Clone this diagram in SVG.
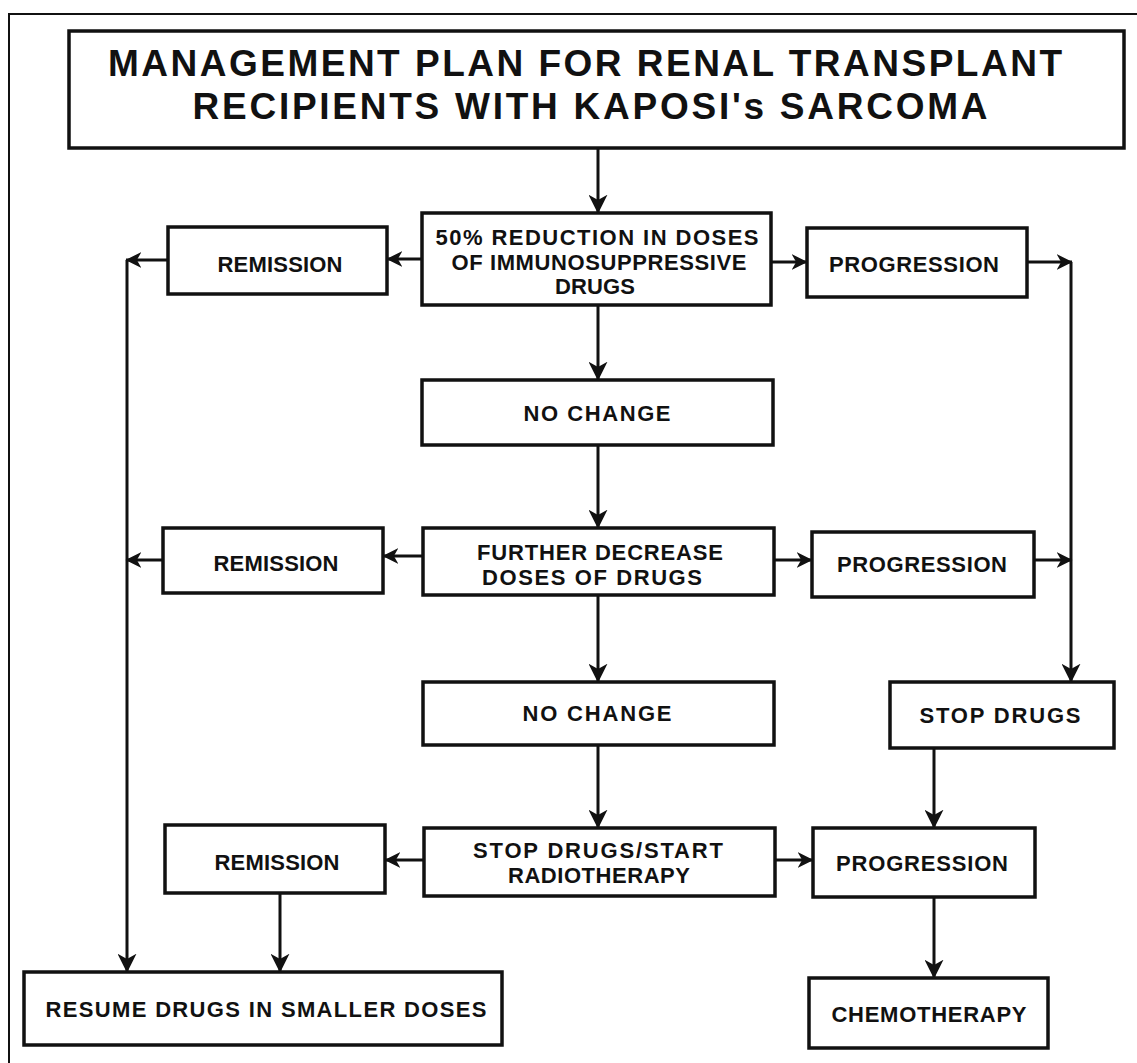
<svg xmlns="http://www.w3.org/2000/svg" width="1137" height="1063" viewBox="0 0 1137 1063">
<style>
.bg{fill:#ffffff}
.frame{fill:none;stroke:#111;stroke-width:2}
.box{fill:#ffffff;stroke:#111;stroke-width:3.5}
.lbl{font-family:"Liberation Sans",Arial,Helvetica,sans-serif;font-weight:bold;font-size:22px;fill:#111;text-anchor:middle}
.ttl{font-family:"Liberation Sans",Arial,Helvetica,sans-serif;font-weight:bold;font-size:37px;fill:#111;text-anchor:middle}
.con{fill:none;stroke:#111;stroke-width:3}
.h{marker-end:url(#ah)}
.v{marker-end:url(#av)}
</style>
<defs>
<marker id="ah" viewBox="0 0 14 14" markerWidth="16" markerHeight="16" markerUnits="userSpaceOnUse" refX="13.5" refY="7" orient="auto">
<path d="M0,0 L14,7 L0,14 L4,7 z" fill="#111"/>
</marker>
<marker id="av" viewBox="0 0 14 14" markerWidth="19" markerHeight="19" markerUnits="userSpaceOnUse" refX="13.5" refY="7" orient="auto">
<path d="M0,0 L14,7 L0,14 L4,7 z" fill="#111"/>
</marker>
</defs>
<rect class="bg" x="0" y="0" width="1137" height="1063"/>
<path class="frame" d="M9,1063 L9,14 L1137,14"/>

<g id="connectors">
<line class="con v" x1="598" y1="148" x2="598" y2="213"/>
<line class="con v" x1="598" y1="305" x2="598" y2="380"/>
<line class="con v" x1="598" y1="445" x2="598" y2="528"/>
<line class="con v" x1="598" y1="595" x2="598" y2="682"/>
<line class="con v" x1="598" y1="745" x2="598" y2="828"/>
<line class="con h" x1="422" y1="259" x2="387" y2="259"/>
<line class="con h" x1="168" y1="260" x2="126" y2="260"/>
<line class="con v" x1="127" y1="260" x2="127" y2="972"/>
<line class="con h" x1="423" y1="556" x2="383" y2="556"/>
<line class="con h" x1="163" y1="560" x2="126" y2="560"/>
<line class="con h" x1="424" y1="860" x2="385" y2="860"/>
<line class="con v" x1="280" y1="893" x2="280" y2="972"/>
<line class="con h" x1="771" y1="262" x2="807" y2="262"/>
<line class="con h" x1="1027" y1="262" x2="1072" y2="262"/>
<line class="con v" x1="1071" y1="262" x2="1071" y2="682"/>
<line class="con h" x1="774" y1="560" x2="812" y2="560"/>
<line class="con h" x1="1034" y1="560" x2="1072" y2="560"/>
<line class="con h" x1="775" y1="860" x2="813" y2="860"/>
<line class="con v" x1="934" y1="748" x2="934" y2="828"/>
<line class="con v" x1="934" y1="897" x2="934" y2="978"/>
</g>

<g id="title">
<rect class="box" x="69" y="31" width="1055" height="117"/>
<text class="ttl" x="585" y="76" textLength="954" lengthAdjust="spacing">MANAGEMENT PLAN FOR RENAL TRANSPLANT</text>
<text class="ttl" x="590" y="119" textLength="795" lengthAdjust="spacing">RECIPIENTS WITH KAPOSI's SARCOMA</text>
</g>

<g id="reduce50">
<rect class="box" x="422" y="213" width="349" height="92"/>
<text class="lbl" x="597" y="245" textLength="323" lengthAdjust="spacing">50% REDUCTION IN DOSES</text>
<text class="lbl" x="599" y="270" textLength="295" lengthAdjust="spacing">OF IMMUNOSUPPRESSIVE</text>
<text class="lbl" x="595" y="294" textLength="80" lengthAdjust="spacing">DRUGS</text>
</g>

<g id="remission1">
<rect class="box" x="168" y="227" width="219" height="67"/>
<text class="lbl" x="280" y="272" textLength="125" lengthAdjust="spacing">REMISSION</text>
</g>

<g id="progression1">
<rect class="box" x="807" y="228" width="220" height="69"/>
<text class="lbl" x="914" y="272" textLength="170" lengthAdjust="spacing">PROGRESSION</text>
</g>

<g id="nochange1">
<rect class="box" x="422" y="380" width="351" height="65"/>
<text class="lbl" x="597" y="421" textLength="147" lengthAdjust="spacing">NO CHANGE</text>
</g>

<g id="further">
<rect class="box" x="423" y="528" width="351" height="67"/>
<text class="lbl" x="600" y="560" textLength="246" lengthAdjust="spacing">FURTHER DECREASE</text>
<text class="lbl" x="592" y="585" textLength="220" lengthAdjust="spacing">DOSES OF DRUGS</text>
</g>

<g id="remission2">
<rect class="box" x="163" y="528" width="220" height="65"/>
<text class="lbl" x="276" y="571" textLength="125" lengthAdjust="spacing">REMISSION</text>
</g>

<g id="progression2">
<rect class="box" x="812" y="532" width="222" height="65"/>
<text class="lbl" x="922" y="572" textLength="170" lengthAdjust="spacing">PROGRESSION</text>
</g>

<g id="nochange2">
<rect class="box" x="423" y="682" width="351" height="63"/>
<text class="lbl" x="597" y="721" textLength="149" lengthAdjust="spacing">NO CHANGE</text>
</g>

<g id="stopdrugs">
<rect class="box" x="890" y="682" width="224" height="66"/>
<text class="lbl" x="1000" y="723" textLength="161" lengthAdjust="spacing">STOP DRUGS</text>
</g>

<g id="stopstart">
<rect class="box" x="424" y="828" width="351" height="68"/>
<text class="lbl" x="598" y="858" textLength="250" lengthAdjust="spacing">STOP DRUGS/START</text>
<text class="lbl" x="599" y="883" textLength="182" lengthAdjust="spacing">RADIOTHERAPY</text>
</g>

<g id="remission3">
<rect class="box" x="165" y="825" width="220" height="68"/>
<text class="lbl" x="277" y="870" textLength="125" lengthAdjust="spacing">REMISSION</text>
</g>

<g id="progression3">
<rect class="box" x="813" y="828" width="222" height="69"/>
<text class="lbl" x="922" y="871" textLength="172" lengthAdjust="spacing">PROGRESSION</text>
</g>

<g id="resume">
<rect class="box" x="24" y="972" width="478" height="73"/>
<text class="lbl" x="266" y="1017" textLength="441" lengthAdjust="spacing">RESUME DRUGS IN SMALLER DOSES</text>
</g>

<g id="chemo">
<rect class="box" x="809" y="978" width="239" height="70"/>
<text class="lbl" x="929" y="1022" textLength="195" lengthAdjust="spacing">CHEMOTHERAPY</text>
</g>
</svg>
